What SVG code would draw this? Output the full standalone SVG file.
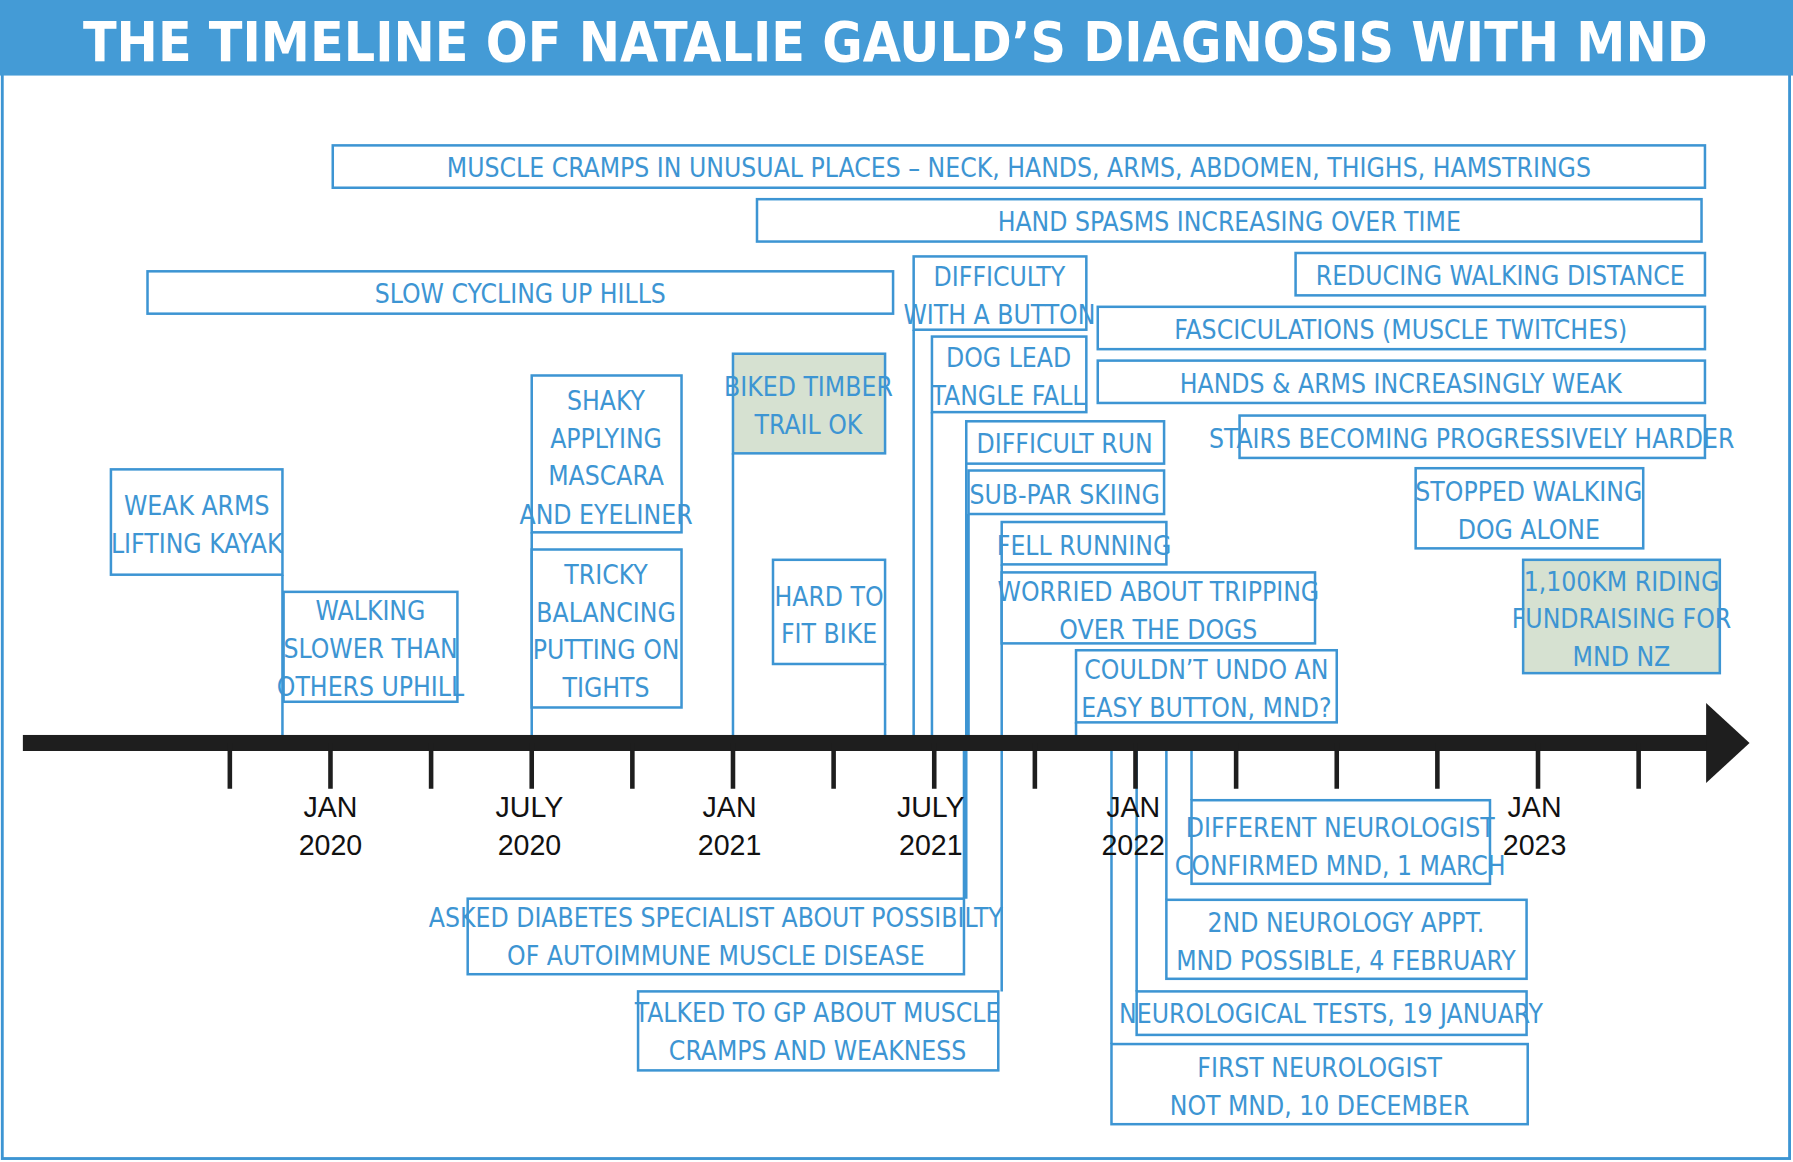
<svg xmlns="http://www.w3.org/2000/svg" width="1793" height="1162" viewBox="0 0 1793 1162">
<style>
.b{fill:#fff;stroke:#3d95d3;stroke-width:2.2}
.g{fill:#d6e1d1;stroke:#3d95d3;stroke-width:2.2}
.t{font-family:"Liberation Sans Narrow","DejaVu Sans Condensed",sans-serif;font-size:23px;fill:#3d95d3;text-anchor:middle}
.l{stroke:#3d95d3;stroke-width:2.2;fill:none}
.a{font-family:"Liberation Sans","DejaVu Sans",sans-serif;font-size:25px;fill:#111;text-anchor:middle}
.k{stroke:#1e1e1e;stroke-width:4}
</style>
<rect width="1793" height="1162" fill="#fff"/>
<g transform="scale(1.1435,1.1448)">
<g id="frame">
<rect x="2" y="2" width="1563" height="1010" fill="none" stroke="#3d95d3" stroke-width="2.5"/>
<rect x="0" y="0" width="1568" height="66" fill="#449bd6"/>
<text x="783" y="53" font-family="Liberation Sans Narrow,DejaVu Sans Condensed,sans-serif" font-weight="bold" font-size="48" fill="#fff" text-anchor="middle">THE TIMELINE OF NATALIE GAULD’S DIAGNOSIS WITH MND</text>
</g>
<g id="connectors">
<path class="l" d="M799 288V642M815 360V642M845 405V785M847 449V642M876 493V866M941 631V642M247 502V642M465 465V642M641 396V642M774 580V642M1042 656V699M1020 656V786M994 656V866M972 656V912M843 656V785"/>
</g>
<g id="axis">
<rect x="20" y="642" width="1474" height="14" fill="#1e1e1e"/>
<polygon points="1492,614 1530,649 1492,684" fill="#1e1e1e"/>
<path class="k" d="M201 649V689M289 649V689M377 649V689M465 649V689M553 649V689M641 649V689M729 649V689M817 649V689M905 649V689M993 649V689M1081 649V689M1169 649V689M1257 649V689M1345 649V689M1433 649V689"/>
<text class="a" x="289" y="714">JAN</text><text class="a" x="289" y="747">2020</text>
<text class="a" x="463" y="714">JULY</text><text class="a" x="463" y="747">2020</text>
<text class="a" x="638" y="714">JAN</text><text class="a" x="638" y="747">2021</text>
<text class="a" x="814" y="714">JULY</text><text class="a" x="814" y="747">2021</text>
<text class="a" x="991" y="714">JAN</text><text class="a" x="991" y="747">2022</text>
<text class="a" x="1342" y="714">JAN</text><text class="a" x="1342" y="747">2023</text>
</g>
<g id="n1"><rect class="b" x="291" y="127" width="1200" height="37"/><text class="t" x="891" y="155">MUSCLE CRAMPS IN UNUSUAL PLACES – NECK, HANDS, ARMS, ABDOMEN, THIGHS, HAMSTRINGS</text></g>
<g id="n2"><rect class="b" x="662" y="174" width="826" height="37"/><text class="t" x="1075" y="202">HAND SPASMS INCREASING OVER TIME</text></g>
<g id="n3"><rect class="b" x="129" y="237" width="652" height="37"/><text class="t" x="455" y="265">SLOW CYCLING UP HILLS</text></g>
<g id="n4"><rect class="b" x="799" y="224" width="151" height="64"/><text class="t" x="874" y="250">DIFFICULTY</text><text class="t" x="874" y="283">WITH A BUTTON</text></g>
<g id="n5"><rect class="b" x="1133" y="221" width="358" height="37"/><text class="t" x="1312" y="249">REDUCING WALKING DISTANCE</text></g>
<g id="n6"><rect class="b" x="960" y="268" width="531" height="37"/><text class="t" x="1225" y="296">FASCICULATIONS (MUSCLE TWITCHES)</text></g>
<g id="n7"><rect class="b" x="960" y="315" width="531" height="37"/><text class="t" x="1225" y="343">HANDS &amp; ARMS INCREASINGLY WEAK</text></g>
<g id="n8"><rect class="b" x="815" y="294" width="135" height="66"/><text class="t" x="882" y="321">DOG LEAD</text><text class="t" x="882" y="354">TANGLE FALL</text></g>
<g id="n9"><rect class="b" x="1084" y="363" width="407" height="37"/><text class="t" x="1287" y="391">STAIRS BECOMING PROGRESSIVELY HARDER</text></g>
<g id="n10"><rect class="b" x="845" y="368" width="173" height="37"/><text class="t" x="931" y="396">DIFFICULT RUN</text></g>
<g id="n11"><rect class="b" x="847" y="411" width="171" height="38"/><text class="t" x="931" y="440">SUB-PAR SKIING</text></g>
<g id="n12"><rect class="b" x="876" y="456" width="144" height="37"/><text class="t" x="948" y="485">FELL RUNNING</text></g>
<g id="n13"><rect class="b" x="876" y="500" width="274" height="62"/><text class="t" x="1013" y="525">WORRIED ABOUT TRIPPING</text><text class="t" x="1013" y="558">OVER THE DOGS</text></g>
<g id="n14"><rect class="b" x="941" y="568" width="228" height="63"/><text class="t" x="1055" y="593">COULDN’T UNDO AN</text><text class="t" x="1055" y="626">EASY BUTTON, MND?</text></g>
<g id="n15"><rect class="b" x="1238" y="409" width="199" height="70"/><text class="t" x="1337" y="438">STOPPED WALKING</text><text class="t" x="1337" y="471">DOG ALONE</text></g>
<g id="n16"><rect class="g" x="1332" y="489" width="172" height="99"/><text class="t" x="1418" y="516">1,100KM RIDING</text><text class="t" x="1418" y="549">FUNDRAISING FOR</text><text class="t" x="1418" y="582">MND NZ</text></g>
<g id="n17"><rect class="b" x="97" y="410" width="150" height="92"/><text class="t" x="172" y="450">WEAK ARMS</text><text class="t" x="172" y="483">LIFTING KAYAK</text></g>
<g id="n18"><rect class="b" x="248" y="517" width="152" height="96"/><text class="t" x="324" y="542">WALKING</text><text class="t" x="324" y="575">SLOWER THAN</text><text class="t" x="324" y="608">OTHERS UPHILL</text></g>
<g id="n19"><rect class="b" x="465" y="328" width="131" height="137"/><text class="t" x="530" y="358">SHAKY</text><text class="t" x="530" y="391">APPLYING</text><text class="t" x="530" y="424">MASCARA</text><text class="t" x="530" y="458">AND EYELINER</text></g>
<g id="n20"><rect class="b" x="465" y="480" width="131" height="138"/><text class="t" x="530" y="510">TRICKY</text><text class="t" x="530" y="543">BALANCING</text><text class="t" x="530" y="576">PUTTING ON</text><text class="t" x="530" y="609">TIGHTS</text></g>
<g id="n21"><rect class="g" x="641" y="309" width="133" height="87"/><text class="t" x="707" y="346">BIKED TIMBER</text><text class="t" x="707" y="379">TRAIL OK</text></g>
<g id="n22"><rect class="b" x="676" y="489" width="98" height="91"/><text class="t" x="725" y="529">HARD TO</text><text class="t" x="725" y="562">FIT BIKE</text></g>
<g id="n23"><rect class="b" x="409" y="785" width="434" height="66"/><text class="t" x="626" y="810">ASKED DIABETES SPECIALIST ABOUT POSSIBILTY</text><text class="t" x="626" y="843">OF AUTOIMMUNE MUSCLE DISEASE</text></g>
<g id="n24"><rect class="b" x="558" y="866" width="315" height="69"/><text class="t" x="715" y="893">TALKED TO GP ABOUT MUSCLE</text><text class="t" x="715" y="926">CRAMPS AND WEAKNESS</text></g>
<g id="n25"><rect class="b" x="1042" y="699" width="261" height="73"/><text class="t" x="1172" y="731">DIFFERENT NEUROLOGIST</text><text class="t" x="1172" y="764">CONFIRMED MND, 1 MARCH</text></g>
<g id="n26"><rect class="b" x="1020" y="786" width="315" height="69"/><text class="t" x="1177" y="814">2ND NEUROLOGY APPT.</text><text class="t" x="1177" y="847">MND POSSIBLE, 4 FEBRUARY</text></g>
<g id="n27"><rect class="b" x="994" y="866" width="341" height="38"/><text class="t" x="1164" y="894">NEUROLOGICAL TESTS, 19 JANUARY</text></g>
<g id="n28"><rect class="b" x="972" y="912" width="364" height="70"/><text class="t" x="1154" y="941">FIRST NEUROLOGIST</text><text class="t" x="1154" y="974">NOT MND, 10 DECEMBER</text></g>
</g>
</svg>
